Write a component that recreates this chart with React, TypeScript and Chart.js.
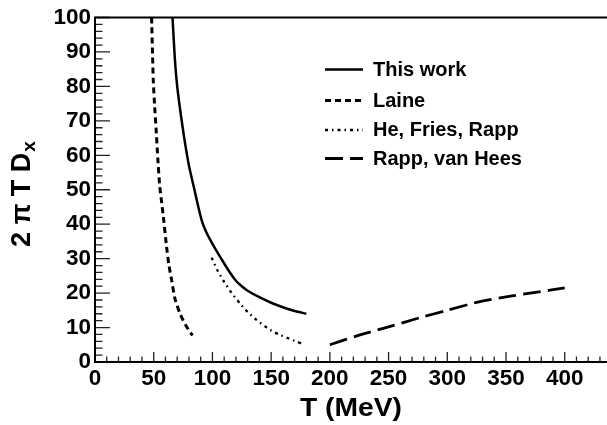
import React, { useEffect, useRef } from "react";
import { Chart, registerables } from "chart.js";

Chart.register(...registerables);

// This work (solid)
const thisWorkT = [66, 68, 70, 73, 76, 80, 84, 88, 91, 95, 100, 105, 110, 115, 120, 125, 130, 140, 150, 160, 170, 180];
const thisWorkD = [100, 88, 80, 72, 65, 57, 51, 45, 41, 37.5, 34.3, 31.4, 28.6, 25.9, 23.6, 22, 20.7, 18.8, 17.2, 15.9, 14.8, 14];

// Laine (short dash)
const laineT = [48.2, 49.6, 51, 52, 53.5, 55, 56.5, 58, 61, 63, 65.3, 68, 72.3, 77, 83];
const laineD = [100, 82, 73, 67.8, 59, 51.5, 47, 42.8, 33.3, 28, 23.7, 18.5, 14.1, 10.8, 7.7];

// He, Fries, Rapp (dash-dot)
const hfrT = [99.3, 104, 109.2, 116, 123.4, 130, 137.6, 145, 151.7, 158, 164.5, 171, 177.3];
const hfrD = [30.3, 26.8, 23.7, 20.2, 17, 14.5, 12.2, 10.3, 8.8, 7.8, 6.9, 6, 5.2];

// Rapp, van Hees (long dash)
const rvhT = [200, 225, 250, 275, 300, 325, 350, 375, 400];
const rvhD = [5, 7.8, 10.2, 12.7, 15, 17.3, 18.9, 20.2, 21.5];

const seriesLabels = ["This work", "Laine", "He, Fries, Rapp", "Rapp, van Hees"];

const xMin = 0;
const xMax = 436;
const xMajorStep = 50;
const xMinorStep = 10;
const yMin = 0;
const yMax = 100;
const yMajorStep = 10;
const yMinorStep = 2;

const xTitle = "T (MeV)";
const yTitleMain = "2 \u03c0 T D";
const yTitleSub = "x";

const FONT = "'Liberation Sans', Arial, Helvetica, sans-serif";

const toPoints = (xs: number[], ys: number[]) => xs.map((x, i) => ({ x, y: ys[i] }));

const framePlugin = {
  id: "rootFrame",
  afterDatasetsDraw(chart: any) {
    const { ctx, chartArea } = chart;
    const xs = chart.scales.x;
    const ys = chart.scales.y;
    const left = chartArea.left;
    const bottom = chartArea.bottom;
    const top = chartArea.top;
    ctx.save();
    // ticks
    ctx.strokeStyle = "#222";
    ctx.lineWidth = 1.3;
    ctx.beginPath();
    for (let v = xMin; v <= xMax + 1e-9; v += xMinorStep) {
      const px = xs.getPixelForValue(v);
      const major = Math.abs(v % xMajorStep) < 1e-9;
      const len = major ? 10 : 5.5;
      ctx.moveTo(px, bottom);
      ctx.lineTo(px, bottom - len);
    }
    for (let v = yMin; v <= yMax + 1e-9; v += yMinorStep) {
      const py = ys.getPixelForValue(v);
      const major = Math.abs(v % yMajorStep) < 1e-9;
      const len = major ? 15 : 7.5;
      ctx.moveTo(left, py);
      ctx.lineTo(left + len, py);
    }
    ctx.stroke();
    // frame
    ctx.strokeStyle = "#000";
    ctx.lineWidth = 2;
    ctx.beginPath();
    ctx.moveTo(chart.width + 2, top);
    ctx.lineTo(left, top);
    ctx.lineTo(left, bottom);
    ctx.lineTo(chart.width + 2, bottom);
    ctx.stroke();

    // legend
    const rowsY = [69.5, 100.5, 130, 158.5];
    chart.data.datasets.forEach((ds: any, i: number) => {
      const y = rowsY[i];
      ctx.strokeStyle = ds.borderColor;
      ctx.lineWidth = ds.borderWidth;
      ctx.setLineDash(ds.borderDash || []);
      ctx.beginPath();
      ctx.moveTo(325, y);
      ctx.lineTo(363, y);
      ctx.stroke();
      ctx.setLineDash([]);
      ctx.fillStyle = "#000";
      ctx.font = `bold 20px ${FONT}`;
      ctx.textBaseline = "middle";
      ctx.textAlign = "left";
      ctx.fillText(ds.label, 373, y + 0.5);
    });

    // x title
    ctx.save();
    ctx.font = `bold 25px ${FONT}`;
    ctx.textBaseline = "alphabetic";
    ctx.textAlign = "center";
    ctx.translate((chartArea.left + chartArea.right) / 2, 416);
    ctx.scale(1.13, 1);
    ctx.fillText(xTitle, 0, 0);
    ctx.restore();

    // y title
    ctx.save();
    ctx.translate(30, 194);
    ctx.rotate(-Math.PI / 2);
    ctx.textBaseline = "alphabetic";
    ctx.textAlign = "left";
    ctx.font = `bold 27px ${FONT}`;
    const wMain = ctx.measureText(yTitleMain).width;
    ctx.font = `bold 19px ${FONT}`;
    const wSub = ctx.measureText(yTitleSub).width;
    const start = -(wMain + wSub + 1) / 2;
    ctx.font = `bold 27px ${FONT}`;
    ctx.fillText(yTitleMain, start, 0);
    ctx.font = `bold 19px ${FONT}`;
    ctx.fillText(yTitleSub, start + wMain + 1, 5);
    ctx.restore();

    ctx.restore();
  },
};

export default function App() {
  const ref = useRef<HTMLCanvasElement>(null);
  useEffect(() => {
    document.body.style.margin = "0";
    const canvas = ref.current!;
    const chart = new Chart(canvas, {
      type: "line",
      data: {
        datasets: [
          {
            label: seriesLabels[0],
            data: toPoints(thisWorkT, thisWorkD),
            borderColor: "#000",
            borderWidth: 2.5,
            borderDash: [],
            pointRadius: 0,
            fill: false,
            tension: 0.2,
          },
          {
            label: seriesLabels[1],
            data: toPoints(laineT, laineD),
            borderColor: "#000",
            borderWidth: 3,
            borderDash: [6, 4],
            pointRadius: 0,
            fill: false,
            tension: 0.2,
          },
          {
            label: seriesLabels[2],
            data: toPoints(hfrT, hfrD),
            borderColor: "#000",
            borderWidth: 2.3,
            borderDash: [3, 4, 1.5, 4],
            pointRadius: 0,
            fill: false,
            tension: 0.2,
          },
          {
            label: seriesLabels[3],
            data: toPoints(rvhT, rvhD),
            borderColor: "#000",
            borderWidth: 2.8,
            borderDash: [18, 7],
            pointRadius: 0,
            fill: false,
            tension: 0.3,
          },
        ],
      },
      options: {
        responsive: false,
        animation: false,
        devicePixelRatio: 1,
        layout: { padding: { top: 14.5, right: 0, left: 0, bottom: 0 } },
        plugins: { legend: { display: false }, tooltip: { enabled: false } },
        scales: {
          x: {
            type: "linear",
            min: xMin,
            max: xMax,
            grid: { display: false, drawTicks: false },
            border: { display: false },
            ticks: {
              stepSize: xMajorStep,
              includeBounds: false,
              color: "#000",
              padding: 3,
              maxRotation: 0,
              autoSkip: false,
              font: { family: FONT, size: 22.5, weight: "bold" },
            },
            afterFit: (s: any) => {
              s.height = 63;
            },
          },
          y: {
            type: "linear",
            min: yMin,
            max: yMax,
            grid: { display: false, drawTicks: false },
            border: { display: false },
            ticks: {
              stepSize: yMajorStep,
              color: "#000",
              padding: 4,
              autoSkip: false,
              font: { family: FONT, size: 22.5, weight: "bold" },
            },
            afterFit: (s: any) => {
              s.width = 95;
            },
          },
        },
      },
      plugins: [framePlugin],
    } as any);
    return () => chart.destroy();
  }, []);
  return <canvas ref={ref} width={607} height={425} style={{ display: "block" }} />;
}
